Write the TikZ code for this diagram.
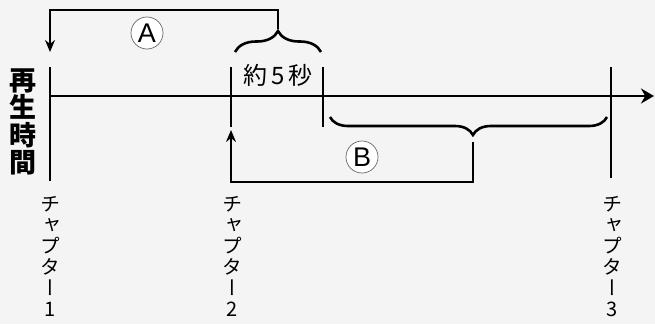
\documentclass[tikz,border=0pt]{standalone}
\usepackage{fontspec}
\usepackage{tikz}
\usetikzlibrary{arrows.meta, positioning, calc, decorations.pathreplacing}
\newfontfamily\jpfont{Noto Sans CJK JP}
\newfontfamily\jpvert{Noto Sans CJK JP}[RawFeature=+vert]
\newfontfamily\latinfont{Liberation Sans}
\definecolor{paper}{HTML}{F4F4F4}

\begin{document}
\begin{tikzpicture}[x=1pt, y=-1pt,
    axis/.style={line width=1.8pt, -{Stealth[length=13pt, width=15pt]}},
    tick/.style={line width=2.4pt},
    curly/.style={decorate, decoration={brace, amplitude=#1}, line width=2.6pt},
    jump/.style={line width=1.3pt, -{Stealth[length=12pt, width=10pt]}},
    circled/.style={circle, draw=black!60, fill=white, line width=0.7pt, minimum size=32pt, inner sep=0pt, font=\latinfont\fontsize{27}{27}\selectfont},
    chapter/.style={align=center, inner sep=0pt, anchor=north, font=\jpvert\fontsize{20}{21}\selectfont}
]
\fill[paper] (0,0) rectangle (655,324);
\useasboundingbox (0,0) rectangle (655,324);

% time axis and chapter ticks
\coordinate (start) at (50,96);
\coordinate (end) at (654,96);
\draw[axis] (start) -- (end);
\draw[tick] (50,67) coordinate (t1) -- (50,181) coordinate (b1);
\draw[tick] (231,67) coordinate (t2) -- (231,127) coordinate (b2);
\draw[tick] (323,67) coordinate (t5) -- (323,127) coordinate (b5);
\draw[tick] (611,67) coordinate (t3) -- (611,178) coordinate (b3);

\node[inner sep=0pt, align=center, font=\jpfont\bfseries\fontsize{27}{27.5}\selectfont] (label) at (23,122) {再\\生\\時\\間};

\node[chapter] (ch1) at (50,196) {チ\\ャ\\プ\\タ\\ー\\1};
\node[chapter] (ch2) at (232,196) {チ\\ャ\\プ\\タ\\ー\\2};
\node[chapter] (ch3) at (612,196) {チ\\ャ\\プ\\タ\\ー\\3};

% about five seconds
\node[inner sep=0pt, font=\jpfont\fontsize{24}{24}\selectfont] (five) at (278,75) {約\,5\,秒};
\draw[curly=21pt] (235,52) -- (321,52) coordinate[pos=0.5] (topmid);
\coordinate (atip) at (278,29);
\coordinate (aret) at (50,52);
\draw[jump] (atip) -- (278,10) -| (aret);
\node[circled] (A) at (147,33) {A};

% skip forward
\draw[curly=18pt, decoration={mirror, aspect=0.516}] (330,117) -- (607,117);
\coordinate (btip) at (473,142);
\coordinate (bret) at (231,130);
\draw[jump] (btip) -- (473,182) -| (bret);
\node[circled] (B) at (362,157) {B};
\end{tikzpicture}
\end{document}
